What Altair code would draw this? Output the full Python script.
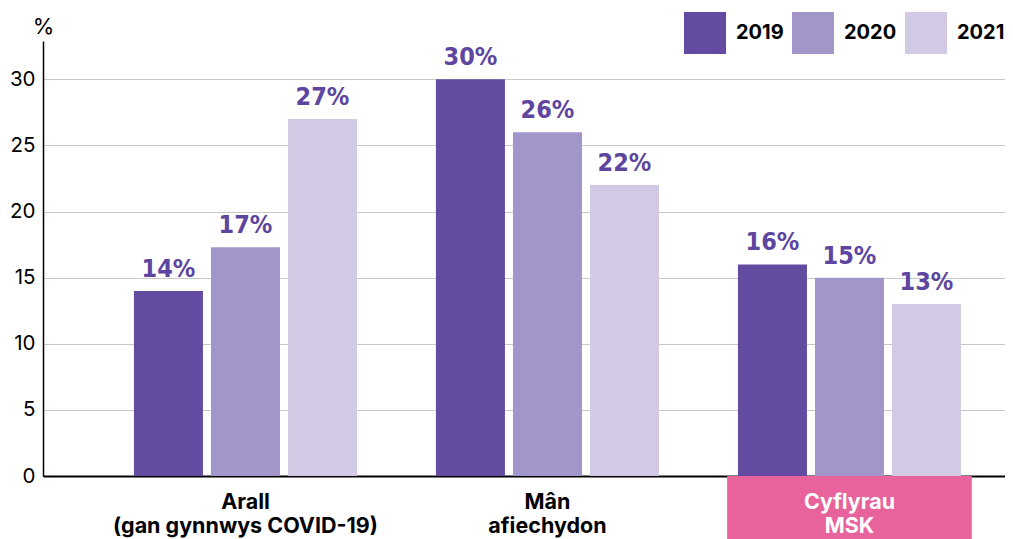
import altair as alt
import pandas as pd

categories = ["Arall\n(gan gynnwys COVID-19)", "Mân\nafiechydon", "Cyflyrau\nMSK"]
years = ["2019", "2020", "2021"]
values_2019 = [14, 30, 16]
values_2020 = [17.3, 26, 15]
values_2021 = [27, 22, 13]
highlight = ["Cyflyrau\nMSK"]
y_ticks = [0, 5, 10, 15, 20, 25, 30]

colors = ["#634BA2", "#A295C9", "#D2CAE4"]
label_color = "#5E46A0"
pink = "#E8629C"
cond_font = "DejaVu Sans Condensed, DejaVu Sans, sans-serif"
main_font = "Inter, Roboto, sans-serif"

rows = []
for yr, vals in zip(years, [values_2019, values_2020, values_2021]):
    for c, v in zip(categories, vals):
        rows.append({"cat": c, "year": yr, "value": v})
df = pd.DataFrame(rows)
hl = pd.DataFrame({"cat": highlight})

W, H = 962, 435

x_enc = alt.X(
    "cat:N",
    sort=categories,
    scale=alt.Scale(domain=categories, paddingInner=0.19, paddingOuter=0.1877, align=0.707),
    axis=alt.Axis(
        title=None, domain=False, ticks=False, grid=False, zindex=1, labelLimit=0,
        labelAngle=0, labelFont=main_font, labelFontSize=21.5, labelFontWeight="bold",
        labelColor=alt.ExprRef(expr="indexof(datum.value, 'MSK') >= 0 ? 'white' : 'black'"),
        labelExpr="split(datum.value, '\\n')", labelLineHeight=24, labelPadding=15,
        labelBaseline="top",
    ),
)
xoff = alt.XOffset("year:N", sort=years, scale=alt.Scale(paddingInner=0.104, paddingOuter=0.14))
y_enc = alt.Y(
    "value:Q",
    scale=alt.Scale(domain=[0, 32.9], nice=False),
    axis=alt.Axis(
        values=y_ticks, ticks=False, labelPadding=8, labelFont=main_font, labelFontSize=20.5,
        labelColor="black", domainColor="black", domainWidth=1.5,
        gridColor=alt.ExprRef(expr="datum.value === 0 ? 'black' : '#c8c8c8'"),
        gridWidth=alt.ExprRef(expr="datum.value === 0 ? 2 : 1"),
        title="%", titleAngle=0, titleAlign="center", titleBaseline="alphabetic",
        titleX=0, titleY=-8, titleFont=main_font, titleFontSize=22, titleFontWeight="normal",
        titleColor="black",
    ),
)

rect = alt.Chart(hl).mark_rect(color=pink).encode(
    x=x_enc, y=alt.value(H), y2=alt.value(H + 63)
)

bars = alt.Chart(df).mark_bar().encode(
    x=x_enc, xOffset=xoff, y=y_enc,
    color=alt.Color(
        "year:N", sort=years,
        scale=alt.Scale(domain=years, range=colors),
        legend=alt.Legend(
            title=None, orient="none", legendX=641, legendY=-29, direction="horizontal",
            symbolType="square", symbolSize=1764, symbolStrokeWidth=0, symbolOpacity=1,
            labelFont=main_font, labelFontSize=20, labelFontWeight="bold", labelColor="black",
            labelOffset=10, columnPadding=8, padding=0,
        ),
    ),
)

text = alt.Chart(df).transform_calculate(
    lbl="round(datum.value) + '%'"
).mark_text(
    dy=-9, baseline="bottom", font=cond_font, fontSize=25, fontWeight="bold", color=label_color
).encode(x=x_enc, xOffset=xoff, y=y_enc, text="lbl:N")

chart = alt.layer(rect, bars, text).properties(
    width=W, height=H,
    padding={"left": 35, "top": 33, "right": 0, "bottom": 63},
    autosize=alt.AutoSizeParams(type="none"),
).configure_view(stroke=None)

chart.save("out.html", embed_options={"renderer": "svg", "actions": False})
